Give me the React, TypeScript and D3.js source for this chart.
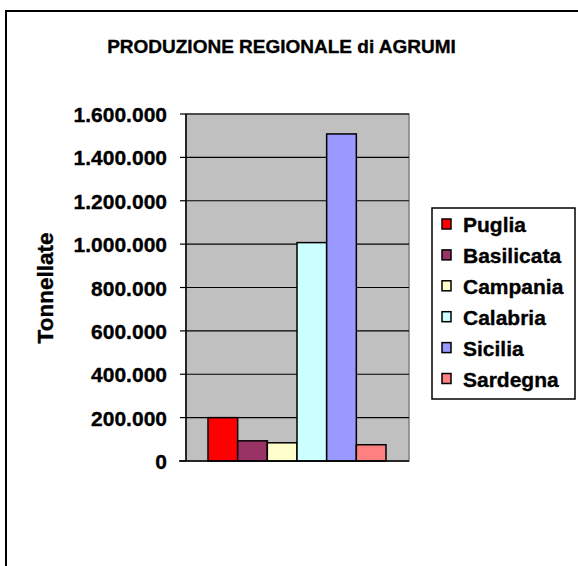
import React from "react";
import * as d3 from "d3";

const title = "PRODUZIONE REGIONALE di AGRUMI";
const yAxisTitle = "Tonnellate";
const regions = ["Puglia", "Basilicata", "Campania", "Calabria", "Sicilia", "Sardegna"];
const values = [200000, 93000, 84000, 1007000, 1508000, 75000];
const colors = ["#FF0000", "#993366", "#FFFFCC", "#CCFFFF", "#9999FF", "#FF8080"];
const yTicks = [0, 200000, 400000, 600000, 800000, 1000000, 1200000, 1400000, 1600000];

const W = 578;
const H = 566;
const plot = { left: 186, right: 409, top: 114, bottom: 461 };
const FONT = "'Liberation Sans', Arial, sans-serif";

const locale = d3.formatLocale({ decimal: ",", thousands: ".", grouping: [3], currency: ["", ""] });
const fmt = locale.format(",");

const textStyle = {
  fontFamily: FONT,
  fontWeight: "bold" as const,
  fill: "#000",
  stroke: "#000",
  strokeWidth: 0.35,
};

export default function App() {
  const y = d3.scaleLinear().domain([0, 1600000]).range([plot.bottom, plot.top]);
  const groupW = plot.right - plot.left;
  const x = d3
    .scaleBand<string>()
    .domain(regions)
    .range([plot.left + 22, plot.right - 23])
    .padding(0);

  const legend = { x: 432, y: 208, w: 143, h: 191, row0: 232, step: 30.9 };

  return (
    <svg
      width={W}
      height={H}
      style={{ position: "absolute", left: 0, top: 0, background: "#fff" }}
    >
      {/* chart border */}
      <rect x={6} y={11} width={W + 10} height={H + 10} fill="#fff" stroke="#000" strokeWidth={2} />

      <text x={281.5} y={53} textAnchor="middle" fontSize={19} style={textStyle}>
        {title}
      </text>

      {/* plot area */}
      <rect
        x={plot.left}
        y={plot.top}
        width={groupW}
        height={plot.bottom - plot.top}
        fill="#C0C0C0"
        stroke="#808080"
        strokeWidth={1.5}
      />

      {/* gridlines */}
      {yTicks.slice(1).map((t) => (
        <line
          key={"g" + t}
          x1={plot.left}
          x2={plot.right}
          y1={y(t)}
          y2={y(t)}
          stroke="#000"
          strokeWidth={1.2}
        />
      ))}

      {/* bars */}
      {regions.map((r, i) => (
        <rect
          key={r}
          x={x(r)}
          y={y(values[i])}
          width={x.bandwidth()}
          height={y(0) - y(values[i])}
          fill={colors[i]}
          stroke="#000"
          strokeWidth={1.5}
        />
      ))}

      {/* y axis */}
      <line x1={plot.left} x2={plot.left} y1={plot.top} y2={plot.bottom} stroke="#000" strokeWidth={1.5} />
      <line x1={plot.left - 7} x2={plot.right} y1={plot.bottom} y2={plot.bottom} stroke="#000" strokeWidth={1.5} />
      {yTicks.map((t) => (
        <g key={"t" + t}>
          <line x1={plot.left - 6} x2={plot.left} y1={y(t)} y2={y(t)} stroke="#000" strokeWidth={1.2} />
          <text x={167} y={y(t) + 8} textAnchor="end" fontSize={21} style={textStyle}>
            {fmt(t)}
          </text>
        </g>
      ))}

      <text transform={`translate(53,288) rotate(-90)`} textAnchor="middle" fontSize={22.5} style={textStyle}>
        {yAxisTitle}
      </text>

      {/* legend */}
      <rect x={legend.x} y={legend.y} width={legend.w} height={legend.h} fill="#fff" stroke="#000" strokeWidth={1.5} />
      {regions.map((r, i) => {
        const by = legend.row0 + i * legend.step;
        return (
          <g key={"l" + r}>
            <rect x={442} y={by - 13} width={9} height={10} fill={colors[i]} stroke="#000" strokeWidth={1.5} />
            <text x={463} y={by} fontSize={21} style={textStyle}>
              {r}
            </text>
          </g>
        );
      })}
    </svg>
  );
}
